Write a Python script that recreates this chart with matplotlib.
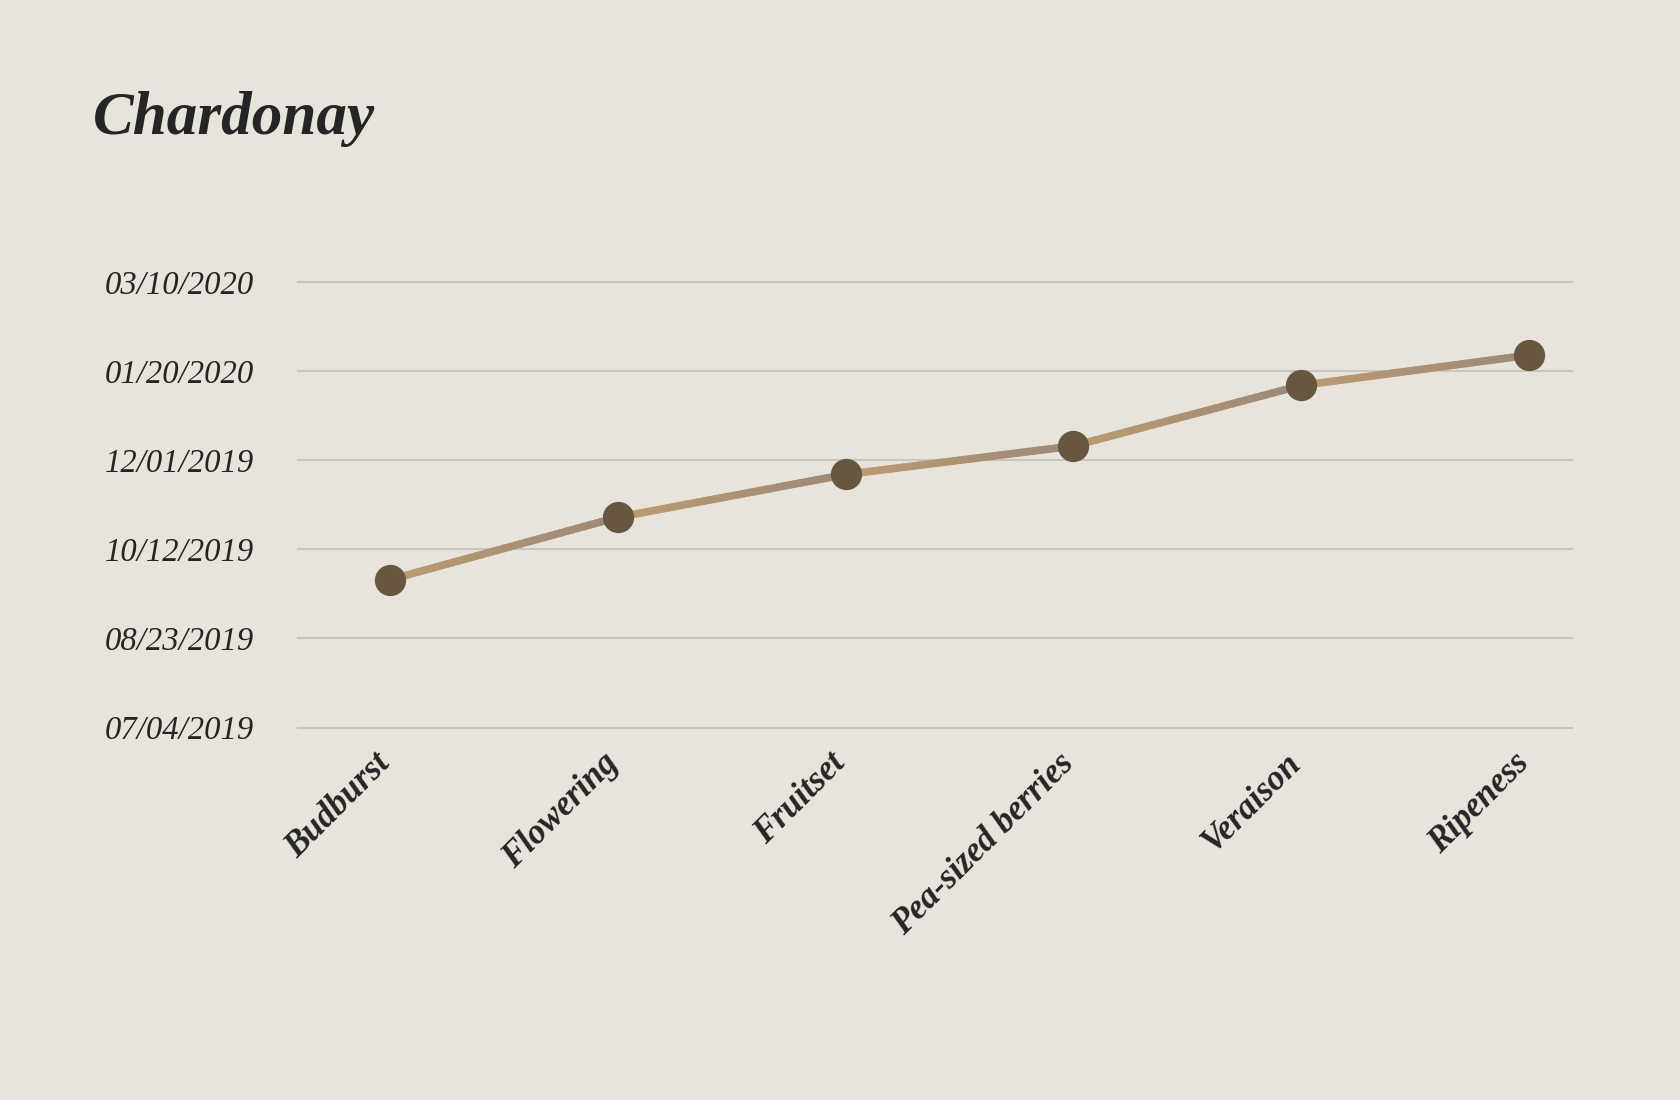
import numpy as np
import matplotlib.pyplot as plt
import matplotlib.dates as mdates
from matplotlib.collections import LineCollection
from matplotlib.colors import to_rgb
from matplotlib.transforms import ScaledTranslation

stages = ['Budburst', 'Flowering', 'Fruitset', 'Pea-sized berries', 'Veraison', 'Ripeness']
stage_dates = ['2019-09-25', '2019-10-30', '2019-11-23', '2019-12-09', '2020-01-12', '2020-01-29']
tick_dates = ['2019-07-04', '2019-08-23', '2019-10-12', '2019-12-01', '2020-01-20', '2020-03-10']

bg = '#e8e4db'
ink = '#252525'
tan = np.array(to_rgb('#bd9c70'))
grey = np.array(to_rgb('#9c8978'))
dot = '#675640'

plt.rcParams['font.family'] = ['Liberation Serif', 'DejaVu Serif']

fig = plt.figure(figsize=(16.8, 11), dpi=100, facecolor=bg)
ax = fig.add_axes([0.1774, 0.3386, 0.7583, 0.405])
ax.set_facecolor(bg)

x = np.arange(len(stages))
y = mdates.date2num(np.array(stage_dates, dtype='datetime64[D]'))
yt = mdates.date2num(np.array(tick_dates, dtype='datetime64[D]'))

# each segment fades from tan to grey-brown
segs, cols = [], []
n = 40
for i in range(len(x) - 1):
    t = np.linspace(0, 1, n + 1)
    xs = x[i] + t * (x[i + 1] - x[i])
    ys = y[i] + t * (y[i + 1] - y[i])
    for k in range(n):
        segs.append([(xs[k], ys[k]), (xs[k + 1], ys[k + 1])])
        f = (k + 0.5) / n
        cols.append(tan * (1 - f) + grey * f)
lc = LineCollection(segs, colors=cols, linewidths=5.5, capstyle='round', zorder=3)
ax.add_collection(lc)

ax.plot(x, y, 'o', ms=21.5, color=dot, mec=dot, zorder=4)

ax.set_xlim(-0.404, 5.189)
ax.set_ylim(yt[0], yt[-1])

ax.set_yticks(yt)
ax.yaxis.set_major_formatter(mdates.DateFormatter('%m/%d/%Y'))
ax.grid(axis='y', color='#c9c6c2', lw=1.5, zorder=0)
for gl in ax.get_ygridlines():
    gl.set_clip_on(False)
ax.set_axisbelow(True)
for s in ax.spines.values():
    s.set_visible(False)

ax.tick_params(axis='y', length=0, pad=139, labelsize=23.5, labelcolor=ink)
for lbl in ax.get_yticklabels():
    lbl.set_ha('left')
    lbl.set_fontstyle('italic')

ax.set_xticks(x)
ax.set_xticklabels(stages, rotation=45, ha='right', va='top',
                   fontsize=25, fontstyle='italic', fontweight='bold', color=ink)
ax.tick_params(axis='x', length=0, pad=14)
shift = ScaledTranslation(5 / 72, 0, fig.dpi_scale_trans)
for lbl in ax.get_xticklabels():
    lbl.set_transform(lbl.get_transform() + shift)

fig.text(93 / 1680, 1 - 134 / 1100, 'Chardonay', fontsize=44, fontweight='bold',
         fontstyle='italic', color=ink, va='baseline', ha='left')

fig.savefig('out.png', dpi=100, facecolor=bg)
